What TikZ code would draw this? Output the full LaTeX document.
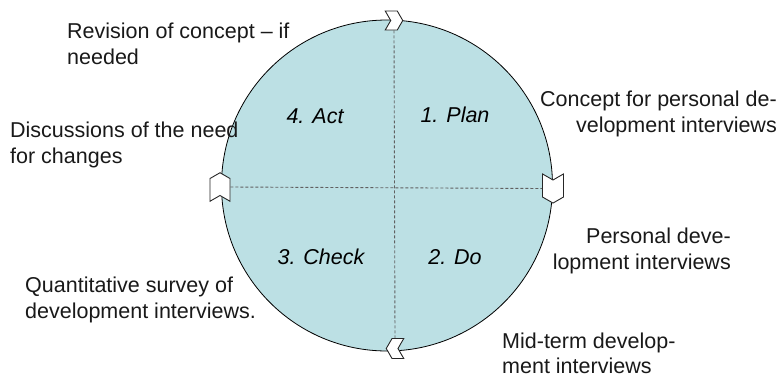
\documentclass[tikz,border=0pt]{standalone}
\usepackage{fontspec}
\setmainfont{Liberation Sans}
\usetikzlibrary{shapes.symbols}
\definecolor{cyclefill}{HTML}{BCE0E4}
\definecolor{guide}{HTML}{606060}
\tikzset{
  label text/.style={font=\fontsize{21.5}{25.5}\selectfont, inner sep=0pt, text=black!90},
  phase/.style={font=\fontsize{21.5}{25.5}\selectfont\itshape, inner sep=0pt, anchor=base},
  chevron/.style={signal, draw=black!85, fill=white, line width=0.9pt, inner sep=0pt,
    signal pointer angle=120},
  guideline/.style={draw=guide, line width=0.9pt, dash pattern=on 3pt off 2pt},
}
\begin{document}
\begin{tikzpicture}[x=1pt,y=-1pt]
\useasboundingbox (0,0) rectangle (779,378);

% the PDCA circle
\node[circle, draw=black, line width=0.8pt, fill=cyclefill, minimum size=331pt, inner sep=0pt]
  (cycle) at (387,185.5) {};

% chevrons on the rim
\node[chevron, signal to=east, signal from=west, minimum width=17.5pt, minimum height=19pt] (top) at (394,20.5) {};
\node[chevron, signal to=west, signal from=east, minimum width=17.5pt, minimum height=20pt] (bot) at (395,348.5) {};
\node[chevron, signal to=north, signal from=south, minimum width=20pt, minimum height=17pt] (lft) at (220,187) {};
\node[chevron, signal to=south, signal from=north, minimum width=21pt, minimum height=17pt] (rgt) at (553,188.5) {};

% quadrant guides
\draw[guideline] (top.south) -- (bot.north);
\draw[guideline] (lft.east) -- (rgt.west);

% phase names
\node[phase] (act) at (315,123) {4. Act};
\node[phase] (plan) at (455,122) {1. Plan};
\node[phase] (check) at (321,264) {3. Check};
\node[phase] (do) at (455,264) {2. Do};

% activities
\node[label text, align=left, anchor=base west] (rev) at (67,64) {Revision of concept -- if\\needed};
\node[label text, align=left, anchor=base west] (disc) at (10,163) {Discussions of the need\\for changes};
\node[label text, align=right, anchor=base east] (conc) at (777,132) {Concept for personal de-\\velopment interviews\hspace{5pt}};
\node[label text, align=right, anchor=base east] (pers) at (731,269) {Personal deve-\\lopment interviews};
\node[label text, align=left, anchor=base west] (mid) at (502,373.5) {Mid-term develop-\\ment interviews};
\node[label text, align=left, anchor=base west] (quant) at (25,318) {Quantitative survey of\\development interviews.};
\end{tikzpicture}
\end{document}
